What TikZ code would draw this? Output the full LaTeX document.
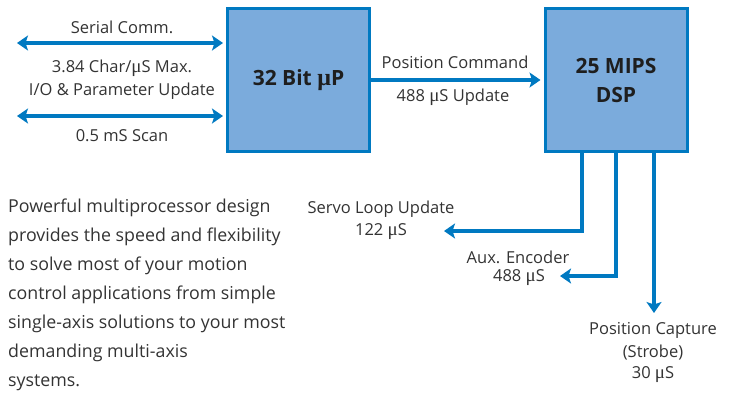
\documentclass[tikz,border=0pt]{standalone}
\usepackage{fontspec}
\setmainfont{Open Sans}
\newfontfamily\mufont[Scale=1.15]{Liberation Serif}
\newcommand*\muS{{\mufont μ}S}
\usetikzlibrary{arrows.meta}
\definecolor{geblue}{HTML}{0079C1}
\definecolor{boxfill}{HTML}{7BABDC}
\definecolor{txt}{HTML}{333333}
\definecolor{boxtxt}{HTML}{1E1E1E}

\begin{document}
\begin{tikzpicture}[x=1pt,y=-1pt,
  procbox/.style={draw=geblue, line width=3pt, fill=boxfill, text=boxtxt,
    minimum width=142pt, minimum height=143pt, align=center,
    font=\fontsize{21}{29}\selectfont\bfseries},
  lbl/.style={text=txt, align=center, inner sep=0pt,
    font=\fontsize{16.5}{22}\selectfont},
  tipshape/.tip={Stealth[length=11pt,width=15pt,inset=2.5pt]},
  conn/.style={draw=geblue, line width=4.5pt, -{tipshape}},
  dconn/.style={draw=geblue, line width=4.5pt, {tipshape}-{tipshape}},
  para/.style={text=txt, align=left, inner sep=0pt, anchor=base west,
    font=\fontsize{17.8}{29}\selectfont}]
\useasboundingbox (0,0) rectangle (733,394);

% processors
\node[procbox] (p32) at (298.5,80) {32 Bit {\mufont\bfseries μ}P};
\node[procbox] (dsp) at (616,80) {25 MIPS\\DSP};

% host side links
\coordinate (s1) at (17,43);
\coordinate (s2) at (17,116);
\draw[dconn] (s1) -- ([xshift=-3pt]p32.west |- s1);
\draw[dconn] (s2) -- ([xshift=-3pt]p32.west |- s2);
\node[lbl] (tSer) at (122,27) {Serial Comm.};
\node[lbl] (tChar) at (122,68) {3.84 Char/\muS{} Max.};
\node[lbl] (tIO) at (122,91) {I/O \& Parameter Update};
\node[lbl] (tScan) at (122,136) {0.5 mS Scan};

% command path to the DSP
\draw[conn] (p32.east |- 0,80) -- ([xshift=-3pt]dsp.west |- 0,80);
\node[lbl] (tPos) at (455,62) {Position Command};
\node[lbl] (tUpd) at (453,97) {488 \muS{} Update};

% DSP outputs
\coordinate (servo) at (444,231);
\coordinate (aux) at (560,276);
\coordinate (cap) at (654,313);
\draw[conn] (dsp.south -| 582,0) |- (servo);
\draw[conn] (dsp.south -| 616,0) |- (aux);
\draw[conn] (dsp.south -| 654,0) -- (cap);
\node[lbl] (tServo) at (381,209) {Servo Loop Update};
\node[lbl] (tServoT) at (381,232) {122 \muS};
\node[lbl] (tAux) at (518,257) {Aux. Encoder};
\node[lbl] (tAuxT) at (519,278) {488 \muS};
\node[lbl] (tCap) at (653,330) {Position Capture};
\node[lbl] (tStr) at (653,353) {(Strobe)};
\node[lbl] (tCapT) at (653,375) {30 \muS};

% description
\node[para] (desc) at (8,386) {Powerful multiprocessor design\\
provides the speed and flexibility\\
to solve most of your motion\\
control applications from simple\\
single-axis solutions to your most\\
demanding multi-axis\\
systems.};
\end{tikzpicture}
\end{document}
